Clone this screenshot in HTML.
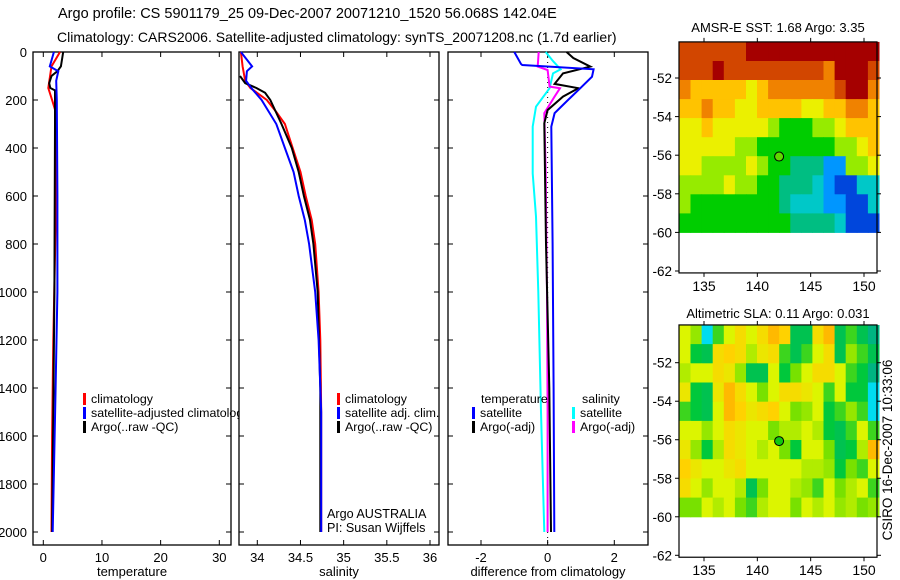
<!DOCTYPE html>
<html><head><meta charset="utf-8"><style>
body{margin:0;background:#fff;width:900px;height:580px;overflow:hidden}
svg{display:block;font-family:"Liberation Sans",sans-serif}
text{font-size:13px;fill:#000}
</style></head><body>
<svg id="fig" width="900" height="580" xmlns="http://www.w3.org/2000/svg">
<defs><clipPath id="clipP1"><rect x="0" y="0" width="239" height="580"/></clipPath></defs>
<text x="58" y="18" style="font-size:14.5px">Argo profile: CS 5901179_25 09-Dec-2007 20071210_1520 56.068S 142.04E</text>
<text x="57" y="42" style="font-size:14px">Climatology: CARS2006. Satellite-adjusted climatology: synTS_20071208.nc (1.7d earlier)</text>
<text transform="translate(892,450) rotate(-90)" text-anchor="middle" style="font-size:13.5px">CSIRO 16-Dec-2007 10:33:06</text>
</svg>
<script>
// ---- data ----
const depthTicks=[0,200,400,600,800,1000,1200,1400,1600,1800,2000];
const tTicks=[0,10,20,30];
const sTicks=[34,34.5,35,35.5,36];
const dTicks=[-2,0,2];
const tClimDepth=[0,60,150,200,240,600,1200,1600,2000];
const tClimVal=[2.85,1.4,0.85,1.5,2.0,2.2,1.7,1.5,1.4];
const tSatDepth=[0,60,80,120,200,600,1000,1400,2000];
const tSatVal=[1.8,1.1,2.55,2.2,2.3,2.4,2.4,2.1,1.6];
const tArgoDepth=[0,60,80,100,130,150,160,300,1000,1500,2000];
const tArgoVal=[3.4,3.0,2.4,1.4,1.0,1.2,2.0,2.0,1.9,1.7,1.5];
const sClimDepth=[0,60,120,150,200,250,300,400,500,600,700,800,1000,1200,1500,2000];
const sClimVal=[33.81,33.83,33.86,33.92,34.11,34.22,34.32,34.41,34.5,34.56,34.63,34.67,34.71,34.73,34.74,34.74];
const sSatDepth=[0,60,80,120,150,200,300,400,500,600,700,800,1000,1200,1500,2000];
const sSatVal=[33.81,33.94,33.88,33.87,33.93,34.05,34.22,34.32,34.42,34.48,34.55,34.6,34.67,34.71,34.74,34.74];
const sArgoDepth=[100,130,150,170,200,300,400,500,600,700,800,1000,1400,2000];
const sArgoVal=[33.8,33.86,33.99,34.09,34.15,34.28,34.4,34.48,34.54,34.61,34.65,34.7,34.73,34.73];
const dTSatDepth=[0,50,54,72,103,151,200,255,311,800,1400,2000];
const dTSatVal=[-1.0,-0.8,-0.76,1.38,1.33,0.98,0.61,0.21,0.11,0.15,0.18,0.2];
const dTArgoDepth=[0,25,61,89,133,151,186,242,297,800,1400,2000];
const dTArgoVal=[0.57,0.77,1.28,0.46,0.21,0.92,0.46,0.0,-0.1,-0.05,0.05,0.1];
const dSSatDepth=[0,38,72,89,151,228,311,506,686,1000,1500,2000];
const dSSatVal=[-0.06,0.16,0.39,0.16,0.06,-0.35,-0.45,-0.45,-0.35,-0.28,-0.2,-0.1];
const dSArgoDepth=[0,61,75,144,151,186,255,506,1000,1500,2000];
const dSArgoVal=[-0.27,-0.3,0.0,0.06,0.37,0.21,-0.1,-0.06,-0.02,0.0,0.0];
const lonTicks=[135,140,145,150];
const latTicks=[-52,-54,-56,-58,-60,-62];
const sstGrid=[
[8,8,8,8,8,8,9,9,9,9,9,9,9,9,9,9,9,9],
[8,8,8,9,8,8,8,8,8,8,8,8,8,7,9,9,9,8],
[7,6,6,6,6,6,5,6,7,7,7,7,7,7,8,9,9,7],
[6,6,7,6,6,5,5,6,6,6,6,5,5,6,6,7,7,6],
[5,5,6,5,5,5,5,5,4,3,3,3,4,4,5,6,6,6],
[5,5,5,5,5,4,4,3,3,3,3,3,3,3,4,4,5,6],
[5,5,4,4,4,4,5,4,3,3,2.5,2.5,2.5,1.5,1.5,4,4,5],
[4,4,4,4,5,4,4,3,3,2.5,2.5,2.5,2,1.5,1,1,2,2],
[4,3,3,3,3,3,3,3,3,2.5,2,2,2,1.5,1.5,1,1,2],
[3,3,3,3,3,3,3,3,3,3,2.5,2.5,2.5,2.5,2,1,1,1]];
const slaGrid=[
[0,-0.5,-2.5,-1,0,0.5,0,0.5,1,0.7,-1.5,-1.5,0.5,1,-1.5,-1,-1.5,-2],
[0,-1.3,-1.5,0.5,0.7,0.5,-0.3,0.3,0.5,-1,-1.5,-1,0,0.5,-1.5,-0.5,-1,-1.5],
[-0.3,0,0,0.5,0.3,-0.5,-1.5,-1.5,0,-1.3,-0.7,0,0.5,0.5,0,-1,-1.3,-2],
[0.3,-1.3,-1.5,0.3,1,0.5,0,-0.7,0,0.5,0.5,0.3,0,-1,0,-1.3,-1.3,-2.5],
[-1,-1.3,-1.5,0,1,0.7,0.3,0.5,0.7,0,-0.7,-0.5,0,-1.3,-1,-0.5,-1,-2.5],
[0,0,-0.5,0,0.5,0.3,0,0,-0.7,-0.3,-0.3,0,-0.3,-1.3,-1.5,-1,0,-1],
[0.3,-0.5,-1.3,-0.3,0.5,0.3,0,-0.3,0,-0.7,-1.3,0,0,-0.7,-1.5,-1.3,-0.3,1],
[0.7,0.3,0,0,0.3,0.5,0,0,0,0,0,-0.3,-0.3,-0.5,-1.3,-0.7,-1,0],
[0.5,0,-0.5,0,0,-0.3,-1.5,-0.7,0,0,-0.3,-0.5,-1,0,-0.7,-0.3,0,-1],
[-0.7,-0.7,0,-0.3,0,-0.7,-1,-0.3,0,0,-0.7,0,-0.3,0,-0.5,-0.3,-0.7,-0.5]];
const floatLon=142.04, floatLat=-56.07;

// ---- drawing ----
const NS="http://www.w3.org/2000/svg";
const svg=document.getElementById('fig');
function el(tag,attrs,parent){const e=document.createElementNS(NS,tag);for(const k in attrs)e.setAttribute(k,attrs[k]);(parent||svg).appendChild(e);return e;}
const yTop=52, pxPerM=0.24, yBot=545;
const yD=d=>yTop+d*pxPerM;
function lin(v0,p0,v1,p1){return v=>p0+(v-v0)*(p1-p0)/(v1-v0);}
const panels=[
 {name:'temperature',x0:33,x1:231,sx:lin(0,43.3,30,219.3),ticks:tTicks,label:'temperature'},
 {name:'salinity',x0:239,x1:439,sx:lin(34,257.3,36,430),ticks:sTicks,label:'salinity'},
 {name:'difference',x0:448,x1:648,sx:lin(-2,481,2,614.3),ticks:dTicks,label:'difference from climatology'}];
panels.forEach((p,i)=>{
  const g=el('g',{});
  
  
  const r=el('rect',{x:p.x0,y:yTop,width:p.x1-p.x0,height:yBot-yTop,fill:'none',stroke:'#000','stroke-width':1.3},g);
  
  
  p.ticks.forEach(t=>{
    const x=p.sx(t);
    el('line',{x1:x,y1:yBot,x2:x,y2:yBot-5,stroke:'#000'},g);
    el('line',{x1:x,y1:yTop,x2:x,y2:yTop+5,stroke:'#000'},g);
    const tx=el('text',{x:x,y:yBot+17,'text-anchor':'middle'},g);tx.textContent=t;
    
    
  });
  depthTicks.forEach(d=>{
    const y=yD(d);
    el('line',{x1:p.x0,y1:y,x2:p.x0+5,y2:y,stroke:'#000'},g);
    el('line',{x1:p.x1,y1:y,x2:p.x1-5,y2:y,stroke:'#000'},g);
    if(i===0){const tx=el('text',{x:27,y:y+5,'text-anchor':'end'},g);tx.textContent=d;
      
      }
  });
  const xl=el('text',{x:(p.x0+p.x1)/2,y:576,'text-anchor':'middle'},g);xl.textContent=p.label;
  
  
});
function profile(p,depths,vals,color,name,w){
  const pts=depths.map((d,k)=>p.sx(vals[k]).toFixed(1)+','+yD(d).toFixed(1)).join(' ');
  const e=el('polyline',{points:pts,fill:'none',stroke:color,'stroke-width':w||2});
  
  
}
const [P1,P2,P3]=panels;
const dz=el('line',{x1:P3.sx(0),y1:yTop,x2:P3.sx(0),y2:yBot,stroke:'#000','stroke-dasharray':'1,4'});


profile(P1,tClimDepth,tClimVal,'#f00','temp-climatology-line');
profile(P1,tArgoDepth,tArgoVal,'#000','temp-argo-line');
profile(P1,tSatDepth,tSatVal,'#00f','temp-satellite-line');
profile(P2,sClimDepth,sClimVal,'#f00','sal-climatology-line');
profile(P2,sArgoDepth,sArgoVal,'#000','sal-argo-line');
profile(P2,sSatDepth,sSatVal,'#00f','sal-satellite-line');
profile(P3,dSSatDepth,dSSatVal,'#0ff','diff-sal-satellite-line');
profile(P3,dSArgoDepth,dSArgoVal,'#f0f','diff-sal-argo-line');
profile(P3,dTArgoDepth,dTArgoVal,'#000','diff-temp-argo-line');
profile(P3,dTSatDepth,dTSatVal,'#00f','diff-temp-satellite-line');

function legend(x,y,items,name,clip){
  const g=el('g',clip?{'clip-path':'url(#clipP1)'}:{});
  
  
  items.forEach((it,k)=>{
    const yy=y+k*14;
    if(it[1])el('rect',{x:x,y:yy-10,width:3,height:12,fill:it[1]},g);
    const t=el('text',{x:x+(it[1]?8:0),y:yy,style:'font-size:12.4px'},g);t.textContent=it[0];
  });
}
legend(83,403,[['climatology','#f00'],['satellite-adjusted climatology','#00f'],['Argo(..raw -QC)','#000']],'temperature-legend',true);
legend(337,403,[['climatology','#f00'],['satellite adj. clim.','#00f'],['Argo(..raw -QC)','#000']],'salinity-legend');
legend(481,403,[['temperature',null]],'diff-legend-temp-header');
legend(472,417,[['satellite','#00f'],['Argo(-adj)','#000']],'diff-legend-temperature');
legend(582,403,[['salinity',null]],'diff-legend-sal-header');
legend(572,417,[['satellite','#0ff'],['Argo(-adj)','#f0f']],'diff-legend-salinity');
const a1=el('text',{x:327,y:518,style:'font-size:12.6px'});a1.textContent='Argo AUSTRALIA';


const a2=el('text',{x:327,y:532,style:'font-size:12.6px'});a2.textContent='PI: Susan Wijffels';



// maps
const rgb=c=>'rgb('+c.join(',')+')';
function interp(stops,v){
  if(v<=stops[0][0])return rgb(stops[0][1]);
  for(let k=1;k<stops.length;k++){if(v<=stops[k][0]){const [v0,c0]=stops[k-1],[v1,c1]=stops[k];const f=(v-v0)/(v1-v0);
    return rgb(c0.map((c,j)=>Math.round(c+(c1[j]-c)*f)));}}
  return rgb(stops[stops.length-1][1]);
}
const sstStops=[[1,[0,70,220]],[1.5,[0,150,255]],[2,[0,200,200]],[2.5,[0,190,130]],[3,[0,205,0]],[4,[150,235,0]],[5,[235,240,0]],[6,[255,195,0]],[7,[240,130,0]],[8,[210,70,0]],[9,[165,0,0]]];
const slaStops=[[-2.5,[0,220,240]],[-2,[0,180,130]],[-1.3,[0,200,60]],[-0.7,[120,225,0]],[0,[220,245,0]],[0.7,[255,210,0]],[1.3,[255,160,0]]];
function map(cfg){
  const g=el('g',{});
  
  
  const sx=lin(135,704,150,864), sy=lin(-52,cfg.y52,-62,cfg.y62);
  const lonL=132.7,latT=cfg.latTop,latB=-60;
  const grid=cfg.grid, nr=grid.length, nc=grid[0].length;
  const dLon=(151.4-lonL)/nc, dLat=(latT-latB)/nr;
  grid.forEach((row,r)=>row.forEach((v,c)=>{
    const x0=sx(lonL+c*dLon), x1=sx(lonL+(c+1)*dLon);
    const y0=sy(latT-r*dLat), y1=sy(latT-(r+1)*dLat);
    const cell=el('rect',{x:x0.toFixed(1),y:y0.toFixed(1),width:(x1-x0+0.5).toFixed(1),height:(y1-y0+0.5).toFixed(1),fill:interp(cfg.stops,v)},g);
    
    
  }));
  const bt=sy(latT), bb=sy(-62.1);
  el('rect',{x:679,y:bt,width:198,height:bb-bt,fill:'none',stroke:'#000','stroke-width':1.2},g);
  lonTicks.forEach(l=>{const x=sx(l);el('line',{x1:x,y1:bb,x2:x,y2:bb+4,stroke:'#000'},g);el('line',{x1:x,y1:bt,x2:x,y2:bt-4,stroke:'#000'},g);
    const t=el('text',{x:x,y:bb+18,'text-anchor':'middle','style':'font-size:14px'},g);t.textContent=l;
    
    });
  latTicks.forEach(l=>{const y=sy(l);el('line',{x1:679,y1:y,x2:675,y2:y,stroke:'#000'},g);el('line',{x1:877,y1:y,x2:881,y2:y,stroke:'#000'},g);
    const t=el('text',{x:672,y:y+5,'text-anchor':'end','style':'font-size:13.5px'},g);t.textContent=l;
    
    });
  const m=el('circle',{cx:sx(floatLon),cy:sy(floatLat),r:4.5,fill:cfg.markFill,stroke:'#000','stroke-width':1},g);
  
  
  const t=el('text',{x:778,y:cfg.titleY,'text-anchor':'middle','style':'font-size:13px'},g);t.textContent=cfg.title;
  
  
}
map({name:'sst-map',grid:sstGrid,stops:sstStops,y52:78,y62:271,latTop:-50.13,title:'AMSR-E SST: 1.68 Argo: 3.35',titleY:32,markFill:'#60d800'});
map({name:'sla-map',grid:slaGrid,stops:slaStops,y52:362.7,y62:555.3,latTop:-50.04,title:'Altimetric SLA: 0.11 Argo: 0.031',titleY:318,markFill:'#10c810'});
</script>
</body></html>
